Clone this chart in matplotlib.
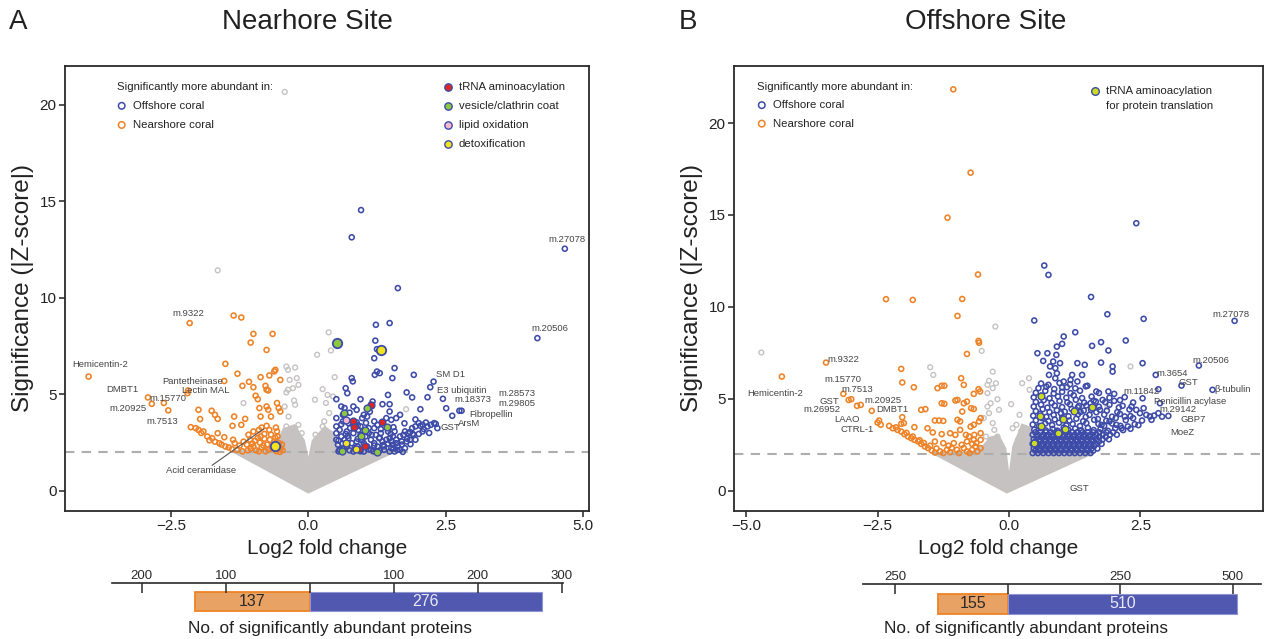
import numpy as np
import matplotlib
matplotlib.use("Agg")
import matplotlib.pyplot as plt
from matplotlib.patches import Polygon

plt.rcParams['font.family'] = ['Liberation Sans', 'DejaVu Sans']

# ---------------- DATA ----------------
# Panel A (Nearhore site): (log2 fold change, |Z|)
a_near = [(-4.00,5.92),(-2.16,8.69),(-2.92,4.84),(-2.85,4.51),(-2.63,4.55),(-2.55,4.17),(-2.19,5.20),(-2.20,5.06),
    (-1.36,9.08),(-1.22,8.98),(-1.00,8.13),(-0.65,8.13),(-1.05,7.68),(-0.76,7.30),(-1.51,6.58),
    (-1.29,6.07),(-1.08,5.65),(-0.87,5.89),(-0.71,5.98),(-0.62,6.19),(-0.60,6.27),(-0.51,5.75),(-1.53,5.69),
    (-1.20,5.44),(-1.00,5.37),(-0.78,5.44),(-0.76,5.24),(-0.73,5.20),(-0.96,4.93),(-0.92,4.75),(-0.89,4.29),
    (-0.76,4.37),(-0.73,4.20),(-0.57,4.55),(-0.54,4.29),(-0.51,4.11),(-0.68,3.85),(-0.87,3.85),(-1.35,3.85),
    (-1.15,3.73),(-2.00,4.20),(-1.97,3.72),(-1.76,4.15),(-1.70,3.94),(-1.65,3.73),(-1.38,3.37),(-1.22,3.42),
    (-2.14,3.30),(-2.00,3.16),(-1.91,3.08),(-1.84,2.82),(-1.75,2.73),(-1.65,2.99),(-1.62,2.47),(-1.53,2.78),
    (-1.51,2.30),(-1.39,2.16),(-1.37,2.65),(-1.34,2.47),(-1.25,2.35),(-1.09,2.91),(-1.06,2.65),(-1.00,3.08),
    (-0.90,3.16),(-0.87,2.82),(-0.85,3.28),(-0.76,3.37),(-0.71,3.16),(-0.68,2.91),(-0.59,3.28),(-0.57,3.08),
    (-0.56,2.82),(-0.53,2.47),(-0.50,2.21),
    (-1.10,2.10),(-1.00,2.30),(-0.95,2.10),(-0.88,2.50),(-0.85,2.25),(-0.78,2.05),(-0.75,2.40),(-0.70,2.65),
    (-0.66,2.20),(-0.62,2.55),(-0.58,2.05),(-0.55,2.35),(-0.48,2.40),(-0.47,2.10),(-1.18,2.55),(-1.12,2.40),
    (-0.97,2.60),(-0.92,2.75),(-1.05,2.20),(-0.80,2.70),
    (-2.05,3.25),(-1.95,3.00),(-1.80,2.62),(-1.70,2.55),(-1.58,2.40),(-1.45,2.25),(-1.30,2.12),(-1.20,2.05),
    (-1.02,2.45),(-0.90,2.05),(-0.82,2.35),(-0.72,2.15),(-0.64,2.38),(-0.52,2.02),(-0.60,2.75),(-0.80,2.95)]

a_off = [(0.96,14.54),(0.79,13.13),(4.67,12.54),(1.63,10.50),(4.17,7.91),
    (1.48,8.69),(1.23,8.60),(1.22,7.78),(1.25,7.34),(1.20,6.87),(1.25,6.18),(1.21,6.01),(1.30,6.10),(1.57,6.36),
    (1.53,5.84),(1.92,6.01),(2.22,5.37),(2.28,5.66),(0.79,5.84),(0.81,5.67),(0.68,5.32),(0.71,5.06),(0.51,4.75),
    (0.95,4.75),(1.17,4.63),(1.14,4.46),(1.35,4.49),(1.45,4.97),(1.48,4.49),(1.79,5.10),(1.89,4.84),(2.17,4.85),
    (2.45,4.77),(2.51,4.28),(2.04,4.23),(2.75,4.15),(2.79,4.15),(2.62,3.89),(2.32,3.47),
    (2.14,3.54),(2.23,3.42),(2.01,3.51),(2.04,3.37),(1.95,3.34),(1.89,3.25),(2.08,3.08),(2.01,2.95),(1.92,2.90),
    (1.82,2.99),(1.76,3.08),(1.73,2.90),(1.67,2.82),(1.70,2.56),(1.60,2.47),(1.63,2.30),(1.54,2.39),(1.51,2.21),
    (0.60,4.37),(0.66,4.29),(0.82,4.37),(0.88,4.20),(1.01,3.94),(1.07,3.85),(0.98,3.77),(0.63,3.94),(0.51,3.77),
    (0.63,3.60),(0.73,3.51),(0.85,3.42),(0.95,3.34),(1.10,3.25),(1.20,3.25),(1.26,3.42),(1.35,3.51),(1.42,3.77),
    (1.51,3.68),(1.60,3.77),(1.67,3.94),(1.48,4.11),(0.57,3.16),(0.60,2.82),(0.66,2.65),(0.73,2.73),(0.79,2.47),
    (0.88,2.56),(1.01,2.47),(1.14,2.65),(1.20,2.47),(1.26,2.30),(1.35,2.56),(1.42,2.65),(1.48,2.73),(1.54,2.82),
    (1.57,3.08),(1.45,3.08),(1.32,2.99),(1.23,2.90),(1.10,2.99),(1.04,2.82),(0.95,2.91),(0.82,2.99),(0.70,3.08),
    (0.54,2.39),(0.57,2.13),(0.70,2.30),(0.82,2.04),(1.01,2.04),(1.14,2.13),(1.26,2.04),(1.38,2.13),(1.48,2.04),
    (1.57,2.04),(1.67,2.13),(1.76,2.21),(0.51,2.65),(0.51,2.99),(0.51,3.34),(0.76,3.25),(0.91,3.16),(1.07,2.30),
    (1.29,2.73),(1.38,2.30),(1.51,2.56),(1.60,2.65),(1.79,2.56),(1.85,2.65),(1.95,2.65),(2.08,3.42),(2.17,3.34),
    (2.29,3.51),(0.55,2.05),(0.65,2.20),(0.75,2.10),(0.90,2.30),(0.95,2.05),(1.10,2.15),(1.20,2.35),(1.30,2.10),
    (1.45,2.45),(1.55,2.20),(1.70,2.40),(1.80,2.70),(1.90,2.95),(0.55,2.60),(0.72,2.85),(0.90,2.70),(1.15,2.90),
    (1.30,2.75),(1.50,2.95),(0.60,3.45),(0.90,3.40),(1.20,3.60),(1.55,3.30),(1.75,3.50),(1.95,3.70),(2.10,3.20),
    (2.20,3.00),(0.62,2.45),(0.85,2.22),(0.98,2.62),(1.18,2.05),(1.36,2.38),(1.62,2.12),(1.72,2.02),(1.86,2.42),
    (0.68,2.95),(0.88,3.55),(1.05,3.52),(1.32,3.20),(1.12,4.10),(0.75,4.05),(1.85,3.05),(2.35,3.25)]

a_gray = [(-0.43,20.66),(-1.65,11.42),(0.37,8.21),(0.41,7.27),(0.16,7.05),(0.48,5.89),(0.26,5.27),(0.35,4.97),
    (0.45,4.89),(0.12,4.72),(0.32,4.55),(0.38,4.03),(0.29,3.60),(0.13,2.91),(0.26,3.34),(1.78,4.23),(-1.18,4.55),
    (-0.40,6.44),(-0.37,6.27),(-0.24,6.39),(-0.34,5.75),(-0.21,5.84),(-0.18,5.49),(-0.28,5.32),(-0.37,5.24),
    (-0.40,5.10),(-0.26,4.68),(-0.24,4.46),(-0.43,4.37),(-0.36,3.85),(-0.40,3.34),(-0.31,3.16),(-0.24,3.25),
    (-0.18,3.42),(-0.37,2.99),(-0.12,2.99)]

# outline of the dense non-significant cloud
a_cloud = [(-1.38,2.05),(0.0,-0.08),(1.58,2.05),(0.52,2.30),(0.45,3.00),(0.30,3.30),(0.08,2.60),(0.0,1.50),
    (-0.08,2.60),(-0.25,3.40),(-0.45,3.20),(-0.60,2.30),(-0.90,2.10)]

a_trna = [(1.14,4.46),(0.82,3.60),(0.83,3.33),(1.34,3.56),(1.04,2.35),(0.92,2.18)]
a_vesicle = [(0.65,4.03),(1.06,4.28),(1.04,3.13),(0.96,2.85),(1.43,3.33),(0.62,2.07),(1.25,2.00)]
a_vesicle_big = [(0.52,7.65)]
a_lipid = [(0.68,3.68)]
a_detox = [(0.68,2.50),(0.87,2.16)]
a_detox_big = [(1.32,7.31),(-0.61,2.33)]

a_labels = [("Hemicentin-2",-3.79,6.53),("m.9322",-2.19,9.17),("DMBT1",-3.38,5.27),("m.15770",-2.55,4.81),
    ("m.20925",-3.28,4.29),("m.7513",-2.66,3.60),("Pantetheinase",-2.10,5.67),("Lectin MAL",-1.87,5.20),
    ("Acid ceramidase",-1.96,1.06),("m.27078",4.70,13.00),("m.20506",4.40,8.40),("SM D1",2.58,6.01),
    ("E3 ubiquitin",2.80,5.20),("m.18373",2.99,4.72),("m.28573",3.80,5.02),("m.29805",3.80,4.52),
    ("Fibropellin",3.33,3.98),("ArsM",2.92,3.50),("GST",2.58,3.29)]
a_leader = [(-1.75,1.33),(-0.81,3.22)]

# Panel B (Offshore site)
b_near = [(-1.06,21.83),(-0.73,17.30),(-1.17,14.85),(-0.59,11.76),(-2.34,10.42),(-1.83,10.38),(-0.89,10.43),
    (-0.98,9.51),(-0.58,8.15),(-0.57,8.05),(-0.80,7.44),(-2.05,6.63),(-0.91,6.12),(-2.03,5.89),(-1.81,5.63),
    (-1.36,5.58),(-1.28,5.71),(-1.23,5.71),(-0.86,5.76),(-0.58,5.52),(-0.55,5.40),(-0.67,5.27),(-1.28,4.76),
    (-1.23,4.73),(-1.02,4.91),(-0.98,4.94),(-0.86,4.76),(-0.80,4.85),(-0.72,4.49),(-0.67,4.45),(-0.89,4.31),
    (-1.67,4.40),(-1.59,4.44),(-2.03,4.00),(-2.00,3.68),(-2.05,3.64),(-1.80,3.46),(-1.55,3.40),(-1.41,3.82),
    (-1.33,3.82),(-1.25,3.80),(-0.98,3.86),(-0.93,3.77),(-0.54,3.95),(-0.57,3.77),(-0.73,3.49),(-0.67,3.59),
    (-1.45,3.17),(-1.28,3.08),(-1.12,3.13),(-1.02,3.04),(-0.93,3.31),(-0.82,3.04),(-0.76,2.95),(-0.66,3.04),
    (-0.54,3.13),
    (-3.48,6.97),(-4.32,6.21),(-3.15,5.27),(-3.05,4.94),(-3.00,4.98),(-2.89,4.62),(-2.82,4.67),(-2.61,4.35),
    (-2.50,3.71),(-2.47,3.82),(-2.44,3.59),
    (-2.28,3.53),(-2.21,3.40),(-2.12,3.31),(-2.05,3.22),(-1.99,3.08),(-1.92,2.95),(-1.86,2.86),(-1.80,2.77),
    (-1.73,2.68),(-1.67,2.55),(-1.60,2.41),(-1.54,2.32),(-1.47,2.19),(-1.41,2.08),(-1.31,2.14),(-1.18,2.23),
    (-1.09,2.32),(-0.99,2.23),(-0.86,2.32),(-0.80,2.14),(-0.70,2.23),(-0.60,2.14),(-0.54,2.32),(-0.64,2.41),
    (-1.05,2.59),(-1.25,2.59),(-1.41,2.68),(-0.80,2.68),(-0.67,2.77),(-0.54,2.77),
    (-2.15,3.45),(-1.95,3.15),(-1.83,2.95),(-1.70,2.75),(-1.62,2.60),(-1.50,2.45),(-1.38,2.30),(-1.25,2.05),
    (-1.12,2.10),(-0.95,2.05),(-0.75,2.05),(-0.62,2.60),(-0.90,2.50),(-1.15,2.45),(-0.70,2.55)]

b_off = [(2.42,14.55),(0.67,12.25),(0.75,11.74),(1.56,10.54),(4.29,9.24),
    (0.48,9.26),(1.87,9.60),(2.56,9.35),(1.26,8.62),(2.22,8.17),(1.75,8.08),(1.58,7.88),(1.89,7.63),(1.04,8.39),
    (1.01,7.99),(0.91,7.84),(0.54,7.48),(0.73,7.48),(0.90,7.39),(0.65,7.06),(0.84,7.03),(0.97,6.94),(1.30,6.94),
    (1.44,6.85),(1.75,6.97),(1.97,6.76),(1.97,6.48),(2.54,6.94),(0.78,6.76),(0.88,6.67),(0.91,6.39),(0.88,6.12),
    (0.76,6.30),(1.20,6.30),(1.39,6.30),(1.17,6.03),(1.30,5.94),(1.04,5.94),(1.10,5.63),
    (2.79,6.30),(3.61,6.81),(3.28,5.72),(3.87,5.49),(2.84,5.52),(2.87,4.76),(3.03,4.07),
    (1.49,5.71),(1.66,5.40),(1.89,5.40),(2.00,5.27),(2.20,5.09),(2.54,5.03),(2.00,4.89),(2.16,4.62),(2.33,4.58),
    (2.42,4.40),(2.49,4.22),(2.61,4.13),(2.56,4.49),(2.68,4.04),(2.76,4.09),(2.84,4.22),(2.20,4.04),(2.36,3.95),
    (2.53,3.82),(2.39,3.62),(2.26,3.50),(2.14,3.40),(2.04,3.59),(1.91,3.77),(1.81,3.53),(1.70,3.64),(1.62,3.86),
    (1.53,4.13),(1.42,4.36),(1.33,4.62),(1.55,4.76),(1.65,4.85),(1.78,4.94),(1.73,4.40),
    # dense lower block
    (0.45,2.05),(0.55,2.05),(0.65,2.05),(0.75,2.05),(0.85,2.05),(0.95,2.05),(1.05,2.05),(1.15,2.05),(1.25,2.05),
    (1.35,2.05),(1.45,2.05),(1.55,2.05),
    (0.50,2.18),(0.60,2.18),(0.70,2.18),(0.80,2.18),(0.90,2.18),(1.00,2.18),(1.10,2.18),(1.20,2.18),(1.30,2.18),
    (1.40,2.18),(1.50,2.18),(1.60,2.18),
    (0.47,2.30),(0.57,2.30),(0.67,2.30),(0.77,2.30),(0.87,2.30),(0.97,2.30),(1.07,2.30),(1.17,2.30),(1.27,2.30),
    (1.37,2.30),(1.47,2.30),(1.57,2.30),(1.68,2.30),
    (0.52,2.43),(0.62,2.43),(0.72,2.43),(0.82,2.43),(0.92,2.43),(1.02,2.43),(1.12,2.43),(1.22,2.43),(1.32,2.43),
    (1.42,2.43),(1.52,2.43),(1.62,2.43),
    (0.45,2.55),(0.55,2.55),(0.65,2.55),(0.75,2.55),(0.85,2.55),(0.95,2.55),(1.05,2.55),(1.15,2.55),(1.25,2.55),
    (1.35,2.55),(1.45,2.55),(1.55,2.55),(1.65,2.55),(1.76,2.55),
    (0.50,2.68),(0.60,2.68),(0.70,2.68),(0.80,2.68),(0.90,2.68),(1.00,2.68),(1.10,2.68),(1.20,2.68),(1.30,2.68),
    (1.40,2.68),(1.50,2.68),(1.60,2.68),(1.71,2.68),
    (0.47,2.80),(0.57,2.80),(0.67,2.80),(0.77,2.80),(0.87,2.80),(0.97,2.80),(1.07,2.80),(1.17,2.80),(1.27,2.80),
    (1.37,2.80),(1.47,2.80),(1.57,2.80),(1.67,2.80),(1.78,2.80),(1.90,2.80),
    (0.52,2.93),(0.62,2.93),(0.72,2.93),(0.82,2.93),(0.92,2.93),(1.02,2.93),(1.12,2.93),(1.22,2.93),(1.32,2.93),
    (1.42,2.93),(1.52,2.93),(1.62,2.93),(1.72,2.93),(1.84,2.93),
    (0.45,3.05),(0.55,3.05),(0.65,3.05),(0.75,3.05),(0.85,3.05),(0.95,3.05),(1.05,3.05),(1.15,3.05),(1.25,3.05),
    (1.35,3.05),(1.45,3.05),(1.55,3.05),(1.66,3.05),(1.78,3.05),(1.92,3.05),(2.05,3.05),
    (0.50,3.18),(0.60,3.18),(0.70,3.18),(0.80,3.18),(0.90,3.18),(1.00,3.18),(1.10,3.18),(1.20,3.18),(1.30,3.18),
    (1.40,3.18),(1.50,3.18),(1.60,3.18),(1.72,3.18),(1.85,3.18),(1.98,3.18),
    # scattered upper part
    (0.48,3.32),(0.61,3.41),(0.70,3.28),(0.83,3.36),(0.92,3.27),(1.04,3.44),(1.13,3.31),(1.26,3.38),(1.37,3.29),
    (1.50,3.42),(1.61,3.30),(1.74,3.36),(1.88,3.26),(2.02,3.40),(2.17,3.30),(2.31,3.37),
    (0.45,3.60),(0.57,3.52),(0.69,3.66),(0.82,3.57),(0.95,3.70),(1.09,3.55),(1.21,3.63),(1.35,3.52),(1.47,3.68),
    (1.76,3.58),(1.96,3.66),(2.12,3.53),(2.46,3.57),
    (0.51,3.83),(0.63,3.95),(0.75,3.79),(0.87,3.88),(1.01,3.98),(1.15,3.82),(1.28,3.92),(1.41,3.78),(1.69,3.90),
    (1.85,3.81),(2.03,3.96),(2.22,3.84),(2.71,3.86),
    (0.46,4.08),(0.59,4.18),(0.71,4.02),(0.85,4.12),(0.99,4.21),(1.13,4.05),(1.31,4.16),(1.46,4.02),(1.81,4.14),
    (1.96,4.03),(2.11,4.18),(2.31,4.06),(2.91,4.03),
    (0.51,4.33),(0.64,4.44),(0.77,4.28),(0.91,4.38),(1.06,4.30),(1.19,4.45),(1.36,4.29),(1.56,4.40),(1.66,4.27),
    (1.86,4.36),(2.06,4.28),(2.29,4.42),
    (0.47,4.58),(0.61,4.68),(0.73,4.52),(0.87,4.63),(1.01,4.55),(1.16,4.70),(1.31,4.54),(1.47,4.64),(1.71,4.57),
    (1.91,4.68),(2.09,4.53),
    (0.51,4.83),(0.66,4.93),(0.81,4.78),(0.96,4.88),(1.11,4.81),(1.27,4.95),(1.43,4.79),(1.61,4.90),(1.83,4.82),
    (2.11,4.93),(2.36,4.80),
    (0.47,5.08),(0.61,5.17),(0.77,5.03),(0.93,5.13),(1.09,5.06),(1.23,5.19),(1.39,5.04),(1.57,5.12),(1.91,5.06),
    (0.51,5.33),(0.69,5.43),(0.85,5.29),(1.01,5.38),(1.17,5.31),(1.35,5.44),(1.71,5.32),
    (0.56,5.58),(0.71,5.66),(0.86,5.53),(1.01,5.62),(1.26,5.57),(1.46,5.68),
    (0.61,5.83),(0.75,5.76),(0.96,5.86),(1.16,5.79)]

b_gray = [(-4.71,7.52),(-1.50,6.72),(-1.44,6.30),(-0.26,8.93),(-0.52,7.61),(-0.31,6.48),(-0.38,5.98),(-0.41,5.76),
    (-0.25,5.85),(-0.31,5.58),(-0.41,5.31),(-0.22,4.98),(-0.35,4.76),(-0.41,4.58),(-0.38,4.22),(-0.19,4.40),
    (-0.48,3.95),(-0.31,3.68),(-0.28,3.31),(-0.44,2.95),(-0.22,2.95),(-0.35,2.77),(-0.15,2.41),(-0.35,2.41),
    (0.38,6.12),(0.25,5.85),(0.39,5.49),(0.04,4.71),(0.20,4.13),(0.14,3.59),(0.07,3.40),(0.23,3.22),(0.30,2.86),
    (0.17,2.77),(2.31,6.76),(1.87,4.55)]

b_cloud = [(-1.45,2.05),(-0.04,-0.09),(1.60,2.05),(0.45,2.30),(0.42,3.40),(0.25,3.60),(0.08,2.40),(0.0,0.60),
    (-0.07,2.30),(-0.20,3.00),(-0.35,2.90),(-0.50,2.40),(-0.70,2.10)]

b_trna = [(0.61,5.18),(1.23,4.36),(1.57,4.55),(0.59,4.04),(1.02,3.91),(0.61,3.53),(1.07,3.35),(0.93,3.13),(0.47,2.59)]

b_labels = [("m.27078",4.22,9.56),("m.9322",-3.15,7.15),("Hemicentin-2",-4.45,5.31),("m.15770",-3.15,6.03),
    ("m.7513",-2.88,5.50),("GST",-3.42,4.85),("m.20925",-2.40,4.93),("m.26952",-3.55,4.40),("DMBT1",-2.21,4.40),
    ("LAAO",-3.08,3.89),("CTRL-1",-2.89,3.35),("GST",1.33,0.14),("m.3654",3.10,6.39),("m.20506",3.84,7.08),
    ("GST",3.42,5.89),("β-tubulin",4.26,5.52),("m.11842",2.52,5.40),("Penicillin acylase",3.45,4.85),
    ("m.29142",3.22,4.40),("GBP7",3.50,3.85),("MoeZ",3.30,3.15)]

threshold = 2.0
a_counts = (137, 276)   # nearshore, offshore
b_counts = (155, 510)
a_bar_ticks = [-200, -100, 0, 100, 200, 300]
a_bar_ticklabels = ["200", "100", "", "100", "200", "300"]
b_bar_ticks = [-250, 0, 250, 500]
b_bar_ticklabels = ["250", "", "250", "500"]

# ---------------- STYLE ----------------
BLUE = "#3D4BA8"
ORANGE = "#EE8226"
GRAY = "#C6C2C2"
TXT = "#222222"
LBL = "#444444"
W, H = 1266, 639

fig = plt.figure(figsize=(W / 100, H / 100), dpi=100)


def xy(pts):
    a = np.array(pts, dtype=float)
    return a[:, 0], a[:, 1]


def volcano(ax, near, off, gray, cloud, xlim, ylim, xticks):
    ax.add_patch(Polygon(cloud, closed=True, fc=GRAY, ec=GRAY, lw=1.5, zorder=1))
    gx, gy = xy(gray)
    ax.scatter(gx, gy, s=12, facecolors='none', edgecolors=GRAY, linewidths=1.0, zorder=2)
    ax.axhline(threshold, color="#AEAEAE", lw=1.5, ls=(0, (4.5, 3.5)), zorder=1.5)
    nx, ny = xy(near)
    ax.scatter(nx, ny, s=13, facecolors='none', edgecolors=ORANGE, linewidths=1.15, zorder=3)
    ox, oy = xy(off)
    ax.scatter(ox, oy, s=13, facecolors='none', edgecolors=BLUE, linewidths=1.15, zorder=3)
    ax.set_xlim(*xlim)
    ax.set_ylim(*ylim)
    ax.set_xticks(xticks)
    ax.set_yticks([0, 5, 10, 15, 20])
    ax.tick_params(direction='out', length=4, width=1.1, labelsize=11, colors=TXT, pad=2)
    for s in ax.spines.values():
        s.set_linewidth(1.3)
        s.set_color("#2a2a2a")
    ax.set_xlabel("Log2 fold change", fontsize=15, labelpad=4, color=TXT)
    ax.set_ylabel("Significance (|Z-score|)", fontsize=17.5, labelpad=4, color=TXT)


def special(ax, pts, fc, s=24, lw=1.0):
    px, py = xy(pts)
    ax.scatter(px, py, s=s, facecolors=fc, edgecolors=BLUE, linewidths=lw, zorder=4)


def labels(ax, lab):
    for t, x, y in lab:
        ax.text(x, y, t, fontsize=6.8, color=LBL, ha='center', va='center', zorder=5)


LEG_FS = 8.2


def legend_left(ax, x0, y0, dy, tx):
    ax.text(x0, y0, "Significantly more abundant in:", transform=ax.transAxes, fontsize=LEG_FS,
            color=TXT, va='center', ha='left')
    ax.scatter([x0 + 0.009], [y0 - dy], s=22, facecolors='none', edgecolors=BLUE, linewidths=1.1,
               transform=ax.transAxes, zorder=6, clip_on=False)
    ax.text(tx, y0 - dy, "Offshore coral", transform=ax.transAxes, fontsize=LEG_FS, color=TXT, va='center')
    ax.scatter([x0 + 0.009], [y0 - 2 * dy], s=22, facecolors='none', edgecolors=ORANGE, linewidths=1.1,
               transform=ax.transAxes, zorder=6, clip_on=False)
    ax.text(tx, y0 - 2 * dy, "Nearshore coral", transform=ax.transAxes, fontsize=LEG_FS, color=TXT, va='center')


# ---------------- PANEL A ----------------
axA = fig.add_axes([65 / W, 1 - 511 / H, 524 / W, 445 / H])
volcano(axA, a_near, a_off, a_gray, a_cloud, (-4.43, 5.11), (-1.04, 22.0), [-2.5, 0.0, 2.5, 5.0])
special(axA, a_trna, "#E0261F")
special(axA, a_vesicle, "#8DC63F")
special(axA, a_lipid, "#F4B8CF")
special(axA, a_detox, "#F2E41C")
special(axA, a_vesicle_big, "#8DC63F", s=46, lw=1.3)
special(axA, a_detox_big, "#F2E41C", s=46, lw=1.3)
labels(axA, a_labels)
lx, ly = xy(a_leader)
axA.plot(lx, ly, color="#555555", lw=0.8, zorder=5)
legend_left(axA, 0.0992, 0.9535, 0.043, 0.1305)
for (name, fc), yy in zip([("tRNA aminoacylation", "#E0261F"), ("vesicle/clathrin coat", "#8DC63F"),
                           ("lipid oxidation", "#F4B8CF"), ("detoxification", "#F2E41C")],
                          [0.9535, 0.9108, 0.8674, 0.8247]):
    axA.scatter([0.7304], [yy], s=28, facecolors=fc, edgecolors=BLUE, linewidths=1.0,
                transform=axA.transAxes, zorder=6, clip_on=False)
    axA.text(0.7519, yy, name, transform=axA.transAxes, fontsize=LEG_FS, color=TXT, va='center')

# ---------------- PANEL B ----------------
axB = fig.add_axes([734 / W, 1 - 511 / H, 529 / W, 445 / H])
volcano(axB, b_near, b_off, b_gray, b_cloud, (-5.23, 4.83), (-1.1, 23.1), [-5.0, -2.5, 0.0, 2.5])
special(axB, b_trna, "#CDDC1F")
labels(axB, b_labels)
legend_left(axB, 0.0435, 0.9535, 0.0415, 0.0737)
axB.scatter([0.6824], [0.9445], s=30, facecolors="#CDDC1F", edgecolors=BLUE, linewidths=1.0,
            transform=axB.transAxes, zorder=6, clip_on=False)
axB.text(0.7032, 0.9445, "tRNA aminoacylation", transform=axB.transAxes, fontsize=LEG_FS, color=TXT,
         va='center')
axB.text(0.7032, 0.9101, "for protein translation", transform=axB.transAxes, fontsize=LEG_FS, color=TXT,
         va='center')

# ---------------- TITLES ----------------
fig.text(18 / W, 1 - 22 / H, "A", fontsize=20, ha='center', va='center', color=TXT)
fig.text(688 / W, 1 - 22 / H, "B", fontsize=20, ha='center', va='center', color=TXT)
fig.text(307 / W, 1 - 22 / H, "Nearhore Site", fontsize=20, ha='center', va='center', color=TXT)
fig.text(986 / W, 1 - 22 / H, "Offshore Site", fontsize=20, ha='center', va='center', color=TXT)


# ---------------- COUNT BARS ----------------
def count_bar(rect, xlim, counts, ticks, ticklabels, ybar, hbar, label_x):
    bx = fig.add_axes(rect)
    n_near, n_off = counts
    bx.barh([ybar], [n_near], left=[-n_near], height=hbar, color="#E8A263", edgecolor=ORANGE, lw=1.3)
    bx.barh([ybar], [n_off], left=[0], height=hbar, color="#5058B0", edgecolor="#8E95D2", lw=0.8)
    bx.text(-n_near / 2, ybar, str(n_near), ha='center', va='center', fontsize=11.5, color="#2a2a2a")
    bx.text(n_off / 2, ybar, str(n_off), ha='center', va='center', fontsize=11.5, color="#E9E9F5")
    bx.set_xlim(*xlim)
    bx.set_ylim(0, 1)
    bx.set_yticks([])
    for k in ("left", "right", "bottom"):
        bx.spines[k].set_visible(False)
    bx.spines["top"].set_linewidth(1.2)
    bx.spines["top"].set_color("#2a2a2a")
    bx.xaxis.set_ticks_position('top')
    bx.set_xticks(ticks)
    bx.set_xticklabels(ticklabels)
    bx.tick_params(axis='x', direction='in', length=7, width=1.1, labelsize=9.5, pad=0.5,
                   colors="#2a2a2a")
    bx.patch.set_alpha(0)
    fig.text(label_x / W, 1 - 629 / H, "No. of significantly abundant proteins", fontsize=12.4,
             ha='center', va='center', color=TXT)


count_bar([112 / W, 1 - 615 / H, 451 / W, 32.5 / H], (-235.4, 301.5), a_counts,
          a_bar_ticks, a_bar_ticklabels, 0.408, 0.57, 330)
count_bar([863 / W, 1 - 617 / H, 397.6 / W, 33 / H], (-321.6, 562), b_counts,
          b_bar_ticks, b_bar_ticklabels, 0.394, 0.606, 1026)

fig.savefig("out.png", dpi=100)
